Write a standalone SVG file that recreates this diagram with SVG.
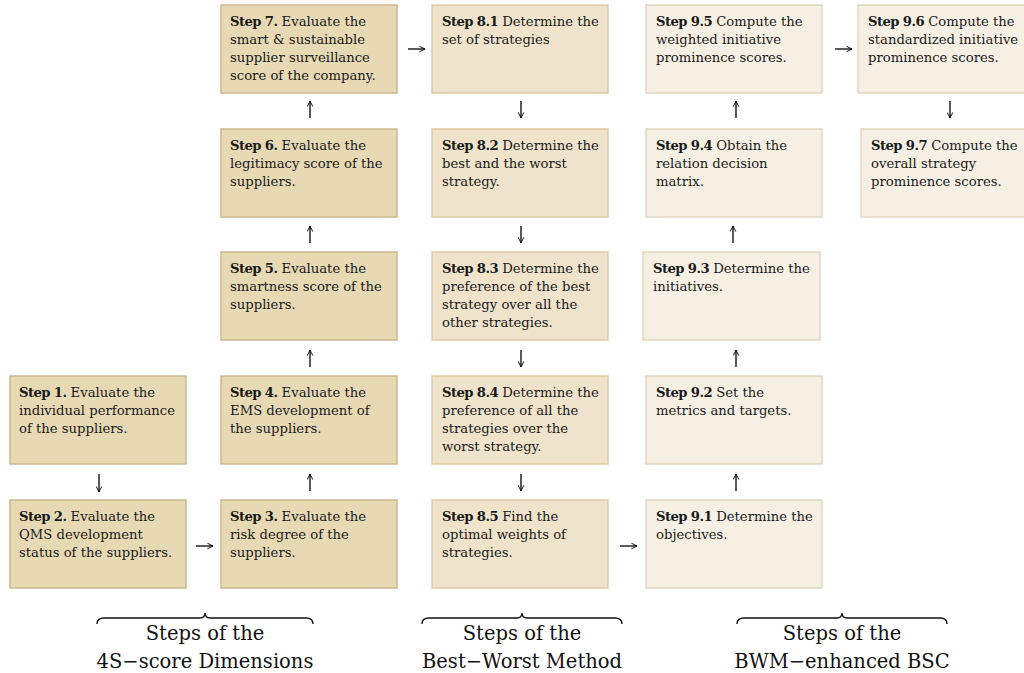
<svg xmlns="http://www.w3.org/2000/svg" width="1024" height="673" viewBox="0 0 1024 673">
<defs>
<marker id="ah" viewBox="0 0 10 10" refX="9" refY="5" markerWidth="7" markerHeight="7" orient="auto" markerUnits="userSpaceOnUse">
<path d="M1,1 L9,5 L1,9" fill="none" stroke="#000" stroke-width="1.3"/>
</marker>
<style>
.b1{fill:#e8d9b5;stroke:#cdb88e;stroke-width:1.5}
.b2{fill:#efe3cb;stroke:#dccaa5;stroke-width:1.5}
.b3{fill:#f6f0e4;stroke:#e2d6bd;stroke-width:1.5}
text{font-family:"DejaVu Serif","Liberation Serif",serif;font-size:13.2px;fill:#1a1a1a}
.s{font-weight:bold;letter-spacing:-0.6px}
.lab{font-size:19.5px;text-anchor:middle;fill:#111}
.c{stroke:#000;stroke-width:1.3;fill:none;marker-end:url(#ah)}
.br{stroke:#111;stroke-width:1.4;fill:none}
</style>
</defs>
<rect width="1024" height="673" fill="#fff"/>

<g id="step1"><rect class="b1" x="10" y="376" width="176" height="88"/>
<text x="19" y="397"><tspan class="s">Step 1.</tspan> Evaluate the</text><text x="19" y="415">individual performance</text><text x="19" y="433">of the suppliers.</text></g>
<g id="step2"><rect class="b1" x="10" y="500" width="176" height="88"/>
<text x="19" y="521"><tspan class="s">Step 2.</tspan> Evaluate the</text><text x="19" y="539">QMS development</text><text x="19" y="557">status of the suppliers.</text></g>
<g id="step3"><rect class="b1" x="221" y="500" width="176" height="88"/>
<text x="230" y="521"><tspan class="s">Step 3.</tspan> Evaluate the</text><text x="230" y="539">risk degree of the</text><text x="230" y="557">suppliers.</text></g>
<g id="step4"><rect class="b1" x="221" y="376" width="176" height="88"/>
<text x="230" y="397"><tspan class="s">Step 4.</tspan> Evaluate the</text><text x="230" y="415">EMS development of</text><text x="230" y="433">the suppliers.</text></g>
<g id="step5"><rect class="b1" x="221" y="252" width="176" height="88"/>
<text x="230" y="273"><tspan class="s">Step 5.</tspan> Evaluate the</text><text x="230" y="291">smartness score of the</text><text x="230" y="309">suppliers.</text></g>
<g id="step6"><rect class="b1" x="221" y="129" width="176" height="88"/>
<text x="230" y="150"><tspan class="s">Step 6.</tspan> Evaluate the</text><text x="230" y="168">legitimacy score of the</text><text x="230" y="186">suppliers.</text></g>
<g id="step7"><rect class="b1" x="221" y="5" width="176" height="88"/>
<text x="230" y="26"><tspan class="s">Step 7.</tspan> Evaluate the</text><text x="230" y="44">smart &amp; sustainable</text><text x="230" y="62">supplier surveillance</text><text x="230" y="80">score of the company.</text></g>

<g id="step8-1"><rect class="b2" x="432" y="5" width="176" height="88"/>
<text x="442" y="26"><tspan class="s">Step 8.1</tspan> Determine the</text><text x="442" y="44">set of strategies</text></g>
<g id="step8-2"><rect class="b2" x="432" y="129" width="176" height="88"/>
<text x="442" y="150"><tspan class="s">Step 8.2</tspan> Determine the</text><text x="442" y="168">best and the worst</text><text x="442" y="186">strategy.</text></g>
<g id="step8-3"><rect class="b2" x="432" y="252" width="176" height="88"/>
<text x="442" y="273"><tspan class="s">Step 8.3</tspan> Determine the</text><text x="442" y="291">preference of the best</text><text x="442" y="309">strategy over all the</text><text x="442" y="327">other strategies.</text></g>
<g id="step8-4"><rect class="b2" x="432" y="376" width="176" height="88"/>
<text x="442" y="397"><tspan class="s">Step 8.4</tspan> Determine the</text><text x="442" y="415">preference of all the</text><text x="442" y="433">strategies over the</text><text x="442" y="451">worst strategy.</text></g>
<g id="step8-5"><rect class="b2" x="432" y="500" width="176" height="88"/>
<text x="442" y="521"><tspan class="s">Step 8.5</tspan> Find the</text><text x="442" y="539">optimal weights of</text><text x="442" y="557">strategies.</text></g>

<g id="step9-1"><rect class="b3" x="646" y="500" width="176" height="88"/>
<text x="656" y="521"><tspan class="s">Step 9.1</tspan> Determine the</text><text x="656" y="539">objectives.</text></g>
<g id="step9-2"><rect class="b3" x="646" y="376" width="176" height="88"/>
<text x="656" y="397"><tspan class="s">Step 9.2</tspan> Set the</text><text x="656" y="415">metrics and targets.</text></g>
<g id="step9-3"><rect class="b3" x="643" y="252" width="177" height="88"/>
<text x="653" y="273"><tspan class="s">Step 9.3</tspan> Determine the</text><text x="653" y="291">initiatives.</text></g>
<g id="step9-4"><rect class="b3" x="646" y="129" width="176" height="88"/>
<text x="656" y="150"><tspan class="s">Step 9.4</tspan> Obtain the</text><text x="656" y="168">relation decision</text><text x="656" y="186">matrix.</text></g>
<g id="step9-5"><rect class="b3" x="646" y="5" width="176" height="88"/>
<text x="656" y="26"><tspan class="s">Step 9.5</tspan> Compute the</text><text x="656" y="44">weighted initiative</text><text x="656" y="62">prominence scores.</text></g>
<g id="step9-6"><rect class="b3" x="858" y="5" width="170" height="88"/>
<text x="868" y="26"><tspan class="s">Step 9.6</tspan> Compute the</text><text x="868" y="44">standardized initiative</text><text x="868" y="62">prominence scores.</text></g>
<g id="step9-7"><rect class="b3" x="861" y="129" width="167" height="88"/>
<text x="871" y="150"><tspan class="s">Step 9.7</tspan> Compute the</text><text x="871" y="168">overall strategy</text><text x="871" y="186">prominence scores.</text></g>

<g id="connectors">
<line class="c" x1="99" y1="474" x2="99" y2="492"/>
<line class="c" x1="196" y1="546" x2="213" y2="546"/>
<line class="c" x1="310" y1="491" x2="310" y2="474"/>
<line class="c" x1="310" y1="367" x2="310" y2="350"/>
<line class="c" x1="310" y1="243" x2="310" y2="226"/>
<line class="c" x1="310" y1="118" x2="310" y2="101"/>
<line class="c" x1="408" y1="49" x2="425" y2="49"/>
<line class="c" x1="521" y1="101" x2="521" y2="118"/>
<line class="c" x1="521" y1="226" x2="521" y2="243"/>
<line class="c" x1="521" y1="350" x2="521" y2="367"/>
<line class="c" x1="521" y1="474" x2="521" y2="491"/>
<line class="c" x1="620" y1="546" x2="637" y2="546"/>
<line class="c" x1="736" y1="491" x2="736" y2="474"/>
<line class="c" x1="736" y1="367" x2="736" y2="350"/>
<line class="c" x1="733" y1="243" x2="733" y2="226"/>
<line class="c" x1="736" y1="118" x2="736" y2="101"/>
<line class="c" x1="835" y1="49" x2="852" y2="49"/>
<line class="c" x1="950" y1="101" x2="950" y2="118"/>
</g>

<g id="brace1"><path class="br" d="M97,624 Q97,618 104,618 L200,618 Q205,618 205,613 Q205,618 210,618 L306,618 Q313,618 313,624"/>
<text class="lab" x="205" y="640">Steps of the</text><text class="lab" x="205" y="668">4S−score Dimensions</text></g>
<g id="brace2"><path class="br" d="M422,624 Q422,618 429,618 L517,618 Q522,618 522,613 Q522,618 527,618 L615,618 Q622,618 622,624"/>
<text class="lab" x="522" y="640">Steps of the</text><text class="lab" x="522" y="668">Best−Worst Method</text></g>
<g id="brace3"><path class="br" d="M737,624 Q737,618 744,618 L837,618 Q842,618 842,613 Q842,618 847,618 L940,618 Q947,618 947,624"/>
<text class="lab" x="842" y="640">Steps of the</text><text class="lab" x="842" y="668">BWM−enhanced BSC</text></g>
</svg>
